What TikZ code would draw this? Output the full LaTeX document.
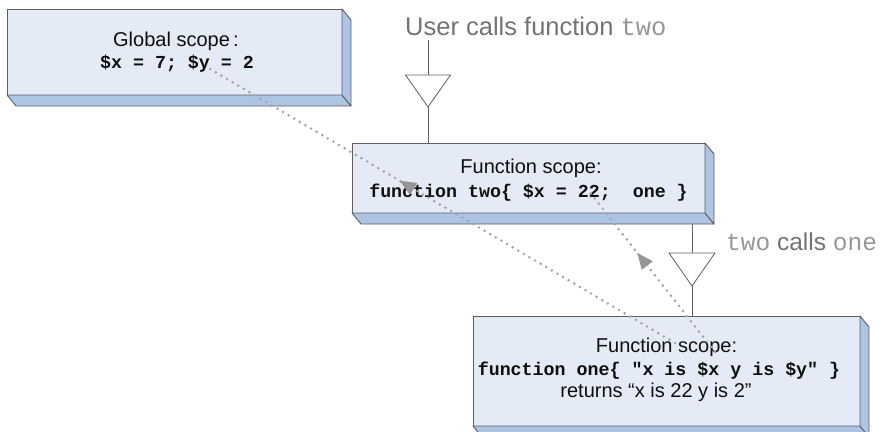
\documentclass[tikz,border=0pt]{standalone}
\usepackage{fontspec}
\setmainfont{Liberation Sans}
\setmonofont{Liberation Mono}
\usetikzlibrary{decorations.markings}
\definecolor{facec}{RGB}{229,235,246}
\definecolor{slabc}{RGB}{174,196,229}
\definecolor{edgec}{RGB}{95,95,100}
\definecolor{dotc}{RGB}{165,165,165}
\definecolor{arrc}{RGB}{150,150,150}
\definecolor{labc}{RGB}{115,115,115}
\definecolor{labm}{RGB}{150,150,150}
\definecolor{txtc}{RGB}{15,15,15}
\tikzset{
  face/.style={draw=edgec, fill=facec, line width=0.9pt, inner sep=0pt, outer sep=0pt},
  slab/.style={draw=edgec, fill=slabc, line width=0.9pt, line join=round},
  conn/.style={draw=edgec, line width=0.8pt},
  tri/.style={draw=edgec, fill=white, line width=0.8pt, line join=miter},
  sanstxt/.style={anchor=base, inner sep=0pt, text=txtc, font=\fontsize{20}{24}\selectfont},
  codetxt/.style={anchor=base, inner sep=0pt, text=txtc, font=\fontsize{18.3}{22}\selectfont\ttfamily\bfseries},
  dotline/.style={draw=dotc, line width=2.9pt, line cap=round, dash pattern=on 0pt off 6.5pt,
    postaction={decorate},
    decoration={markings, mark=at position 0.57 with {\fill[arrc] (8.5,0) -- (-7.5,7) -- (-7.5,-7) -- cycle;}}},
}
\begin{document}
\begin{tikzpicture}[x=1pt,y=-1pt]
\useasboundingbox (0,0) rectangle (882,431);

% ---- box faces
\node[face, minimum width=335pt, minimum height=86pt] (glob) at (174.5,52) {};
\node[face, minimum width=353pt, minimum height=70pt] (two) at (528.5,178) {};
\node[face, minimum width=387pt, minimum height=110pt] (one) at (666.5,371) {};

% ---- slabs (depth)
\foreach \b in {glob,two,one}{
  \draw[slab] (\b.south west) -- ([shift={(9,11)}]\b.south west) -- ([shift={(9,11)}]\b.south east) -- (\b.south east) -- cycle;
  \draw[slab] (\b.north east) -- ([shift={(9,11)}]\b.north east) -- ([shift={(9,11)}]\b.south east) -- (\b.south east) -- cycle;
}

% ---- texts
\node[sanstxt] (globt) at (176,46) {Global scope\,:};
\node[codetxt] (globc) at (177,68) {\$x~=~7;~\$y~=~2};
\node[sanstxt] (twot) at (531,173) {Function scope:};
\node[codetxt] (twoc) at (528.5,197) {function~two\{~\$x~=~22;~~one~\}};
\node[sanstxt] (onet) at (666.5,352) {Function scope:};
\node[codetxt] (onec) at (659,375) {function~one\{~"x~is~\$x~y~is~\$y"~\}};
\node[sanstxt] (oner) at (656,397) {returns “x is 22 y is 2”};

% ---- labels
\node[anchor=base west, inner sep=0pt, font=\fontsize{25.5}{30}\selectfont] (lab1) at (405,35)
  {\textcolor{labc}{User calls function }\textcolor{labm}{\ttfamily two}};
\node[anchor=base west, inner sep=0pt, font=\fontsize{24.5}{28}\selectfont] (lab2) at (726,250)
  {\textcolor{labm}{\ttfamily two} \textcolor{labc}{calls} \textcolor{labm}{\ttfamily one}};

% ---- call connector 1
\coordinate (c1) at (428,40);
\coordinate (t1top) at (428,75);
\coordinate (t1tip) at (428,107);
\draw[conn] (c1) -- (t1top);
\draw[conn] (t1tip) -- (c1 |- two.north);
\draw[tri] ([xshift=-22.5pt]t1top) -- ([xshift=22.5pt]t1top) -- (t1tip) -- cycle;

% ---- call connector 2
\coordinate (c2) at (692,224);
\coordinate (t2top) at (692,253);
\coordinate (t2tip) at (692,286);
\draw[conn] (c2) -- (t2top);
\draw[conn] (t2tip) -- (c2 |- one.north);
\draw[tri] ([xshift=-23pt]t2top) -- ([xshift=23pt]t2top) -- (t2tip) -- cycle;

% ---- variable lookup lines
\coordinate (gy) at (205,66);
\coordinate (a22) at (588,190);
\coordinate (oA) at (675,343);
\coordinate (oB) at (715,352);
\draw[dotline] (oA) -- (gy);
\draw[dotline] (oB) -- (a22);
\end{tikzpicture}
\end{document}
